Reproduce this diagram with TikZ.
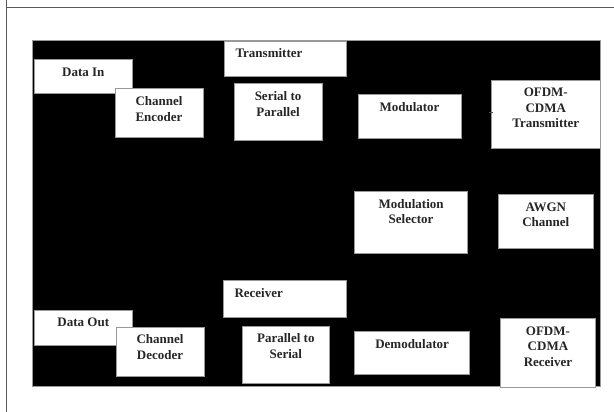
\documentclass[tikz,border=0pt]{standalone}
\usepackage{fontspec}
\setmainfont{Liberation Serif}
\usepackage{xcolor}
\usetikzlibrary{positioning}

\begin{document}
\begin{tikzpicture}[x=1pt, y=-1pt,
  frame/.style={draw=black!65, line width=1.2pt},
  block/.style={rectangle, draw=black!40, fill=white, line width=0.6pt, anchor=north west, inner sep=0pt},
  txt/.style={font=\fontsize{13}{15.5}\selectfont\bfseries, text=black!85, align=center, inner sep=0pt},
  lbl/.style={label={[txt, anchor=north, yshift=-8pt]north:{#1}}},
  ttl/.style={label={[txt, anchor=north west, xshift=11pt, yshift=-8pt]north west:{#1}}}]

  \useasboundingbox (0,0) rectangle (614,412);
  \draw [frame] (6.7,0) -- (6.7,412);
  \draw [frame] (6.7,7.3) -- (614,7.3);

  % black panel
  \draw [draw=black!40, fill=black, line width=0.6pt] (32.7,40.7) rectangle (600,386.7);

  % transmitter side
  \node [block, minimum width=97.4pt, minimum height=34pt, lbl={Data In}] (datain) at (34.3,59.3) {};
  \node [block, minimum width=88pt, minimum height=49pt, lbl={Channel\\Encoder}] (encoder) at (114.7,88.3) {};
  \node [block, minimum width=121.7pt, minimum height=35.3pt, ttl={Transmitter}] (txtitle) at (224.3,40.7) {};
  \node [block, minimum width=88.1pt, minimum height=56.7pt, lbl={Serial to\\Parallel}] (s2p) at (233.7,83.3) {};
  \node [block, minimum width=103pt, minimum height=43.4pt, lbl={Modulator}] (mod) at (357.7,94.3) {};
  \node [block, minimum width=109pt, minimum height=68.3pt, lbl={OFDM-\\CDMA\\Transmitter}] (txofdm) at (491,80) {};

  % middle
  \node [block, minimum width=113pt, minimum height=61.7pt, lbl={Modulation\\Selector}] (modsel) at (354.3,191) {};
  \node [block, minimum width=95.6pt, minimum height=53.4pt, lbl={AWGN\\Channel}] (awgn) at (497.7,194.3) {};

  % receiver side
  \node [block, minimum width=122.7pt, minimum height=36.7pt, ttl={Receiver}] (rxtitle) at (223.3,280) {};
  \node [block, minimum width=97.4pt, minimum height=35pt, lbl={Data Out}] (dataout) at (34.3,310) {};
  \node [block, minimum width=88pt, minimum height=49pt, lbl={Channel\\Decoder}] (decoder) at (115.7,326.7) {};
  \node [block, minimum width=87.6pt, minimum height=57pt, lbl={Parallel to\\Serial}] (p2s) at (241.7,325.7) {};
  \node [block, minimum width=115pt, minimum height=43pt, lbl={Demodulator}] (demod) at (354.3,331) {};
  \node [block, minimum width=94.7pt, minimum height=68.4pt, lbl={OFDM-\\CDMA\\Receiver}] (rxofdm) at (500.3,318.3) {};

  % tip of the modulator arrow
  \coordinate (tick) at (488.5,112.7);
  \draw [black!70, line width=1.2pt] (tick) -- ([xshift=2pt]tick -| txofdm.west);
\end{tikzpicture}
\end{document}
